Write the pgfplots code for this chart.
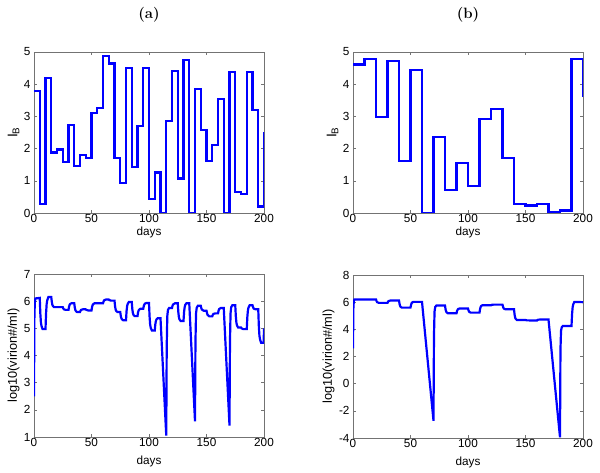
\documentclass[border=0pt]{standalone}
\usepackage{fontspec}
\usepackage{pgfplots}
\pgfplotsset{compat=1.18}
\newfontfamily\arial{Liberation Sans}
\newcommand\af{\arial\fontsize{11.8}{13}\selectfont}
\definecolor{mblue}{RGB}{0,0,255}
\pgfplotsset{
  mystyle/.style={
    scale only axis, width=230bp, height=161bp, anchor=south west,
    xmin=0, xmax=200, xtick={0,50,100,150,200},
    tick align=inside, major tick length=3bp,
    axis line style={line width=0.6pt, black!55},
    every tick/.style={black!55, line width=0.5pt},
    tick label style={font=\af},
    xticklabel style={inner sep=1.5bp},
    label style={font=\af},
    /pgf/number format/assume math mode=true,
    xlabel={days},
    xlabel style={at={(axis description cs:0.5,0)}, anchor=center, yshift=-19bp},
    ylabel style={inner sep=1bp},
    title style={font=\fontsize{15}{17}\selectfont\bfseries, at={(axis description cs:0.5,1)}, anchor=center, yshift=31bp},
  },
  sline/.style={color=mblue, line width=2.2pt, line join=miter},
}
\begin{document}
\begin{tikzpicture}
\useasboundingbox (0,0) rectangle (600bp,473bp);
% (a) top
\begin{axis}[mystyle, at={(34bp,260bp)}, ymin=0, ymax=5, ytick={0,1,2,3,4,5},
  ylabel={I\textsubscript{B}}, ylabel style={font=\arial\fontsize{14}{16}\selectfont}, title={(a)}]
\addplot[sline, const plot] coordinates {
(0,3.80) (5,0.27) (10,4.20) (15,1.88) (20,1.97) (25,1.59) (30,2.73) (35,1.45)
(40,1.79) (45,1.71) (50,3.10) (55,3.26) (60,4.88) (65,4.64) (70,1.72) (75,0.94)
(80,4.51) (85,1.42) (90,2.71) (95,4.51) (100,0.44) (105,1.26) (110,0.0) (115,2.85)
(120,4.42) (125,1.07) (130,4.75) (135,0.0) (140,3.85) (145,2.58) (150,1.62) (155,2.11)
(160,3.53) (165,0.0) (170,4.37) (175,0.65) (180,0.60) (185,4.39) (190,3.20) (195,0.20)
(200,0.20) (200,2.50)};
\node[anchor=south west, font=\arial\fontsize{9}{10}\selectfont, inner sep=0.5bp] at (rel axis cs:0,1) {x 10\textsuperscript{6}};
\end{axis}
% (b) top
\begin{axis}[mystyle, at={(353bp,260bp)}, ymin=0, ymax=5, ytick={0,1,2,3,4,5},
  ylabel={I\textsubscript{B}}, ylabel style={font=\arial\fontsize{14}{16}\selectfont}, title={(b)}]
\addplot[sline, const plot] coordinates {
(0,4.61) (10,4.78) (20,2.98) (30,4.71) (40,1.62) (50,4.43) (60,0.0) (70,2.37)
(80,0.72) (90,1.55) (100,0.84) (110,2.92) (120,3.23) (130,1.72) (140,0.27) (150,0.23)
(160,0.28) (170,0.02) (180,0.08) (190,4.78) (200,4.78) (200,3.60)};
\node[anchor=south west, font=\arial\fontsize{9}{10}\selectfont, inner sep=0.5bp] at (rel axis cs:0,1) {x 10\textsuperscript{6}};
\end{axis}
% (a) bottom
\begin{axis}[mystyle, at={(34bp,36bp)}, height=163bp, ymin=1, ymax=7, ytick={1,2,3,4,5,6,7},
  ylabel={log10(virion\#/ml)}, ylabel style={font=\arial\fontsize{12.8}{14}\selectfont}, xlabel style={yshift=-5bp}]
\addplot[sline] coordinates {
(0,2.5) (0.3,5.3) (0.7,5.95) (1.2,6.1) (5,6.12)
(5.5,5.55) (6,5.22) (6.5,5.09) (7.5,4.97) (10,4.97)
(10.5,5.56) (11,5.89) (11.5,6.03) (12.5,6.15) (15,6.15)
(15.5,5.97) (16,5.86) (16.5,5.82) (17.5,5.78) (25,5.78)
(25.5,5.73) (26,5.70) (27.5,5.68) (30,5.68)
(30.5,5.80) (31,5.87) (31.5,5.90) (32.5,5.92) (35,5.92)
(35.5,5.76) (36,5.67) (36.5,5.63) (37.5,5.6) (40,5.6)
(40.5,5.65) (41,5.68) (42.5,5.7) (45,5.7)
(45.5,5.68) (47,5.66) (50,5.66)
(50.5,5.79) (51,5.86) (51.5,5.89) (52.5,5.92) (60,5.92)
(60.5,5.99) (61,6.03) (62.5,6.06) (65,6.06)
(65.5,6.04) (67,6.02) (70,6.02)
(70.5,5.81) (71,5.69) (71.5,5.64) (72.5,5.6) (75,5.6)
(75.5,5.45) (76,5.37) (76.5,5.33) (77.5,5.3) (80,5.3)
(80.5,5.64) (81,5.82) (81.5,5.90) (82.5,5.97) (85,5.97)
(85.5,5.71) (86,5.56) (86.5,5.50) (87.5,5.45) (90,5.45)
(90.5,5.59) (91,5.66) (91.5,5.69) (92.5,5.72) (95,5.72)
(95.5,5.83) (96,5.88) (96.5,5.91) (97.5,5.93) (100,5.93)
(100.5,5.43) (101,5.14) (101.5,5.02) (102.5,4.92) (105,4.92)
(105.5,5.15) (106,5.27) (106.5,5.33) (107.5,5.37) (110,5.37)
(115,1.05) (115.4,4.3) (115.9,5.45) (116.5,5.68) (117.5,5.75) (120,5.75)
(120.5,5.84) (121,5.88) (122.5,5.92) (125,5.92)
(125.5,5.60) (126,5.41) (126.5,5.33) (127.5,5.27) (130,5.27)
(130.5,5.60) (131,5.78) (131.5,5.86) (132.5,5.92) (135,5.92)
(140,1.58) (140.4,4.5) (140.9,5.55) (141.5,5.76) (142.5,5.83) (145,5.83)
(145.5,5.74) (146,5.69) (147.5,5.65) (150,5.65)
(150.5,5.55) (151,5.49) (152.5,5.44) (155,5.44)
(155.5,5.50) (156,5.53) (157.5,5.55) (160,5.55)
(160.5,5.65) (161,5.71) (162.5,5.75) (165,5.75)
(170,1.42) (170.4,4.5) (170.9,5.55) (171.5,5.78) (172.5,5.85) (175,5.85)
(175.5,5.44) (176,5.21) (176.5,5.11) (177.5,5.03) (180,5.03)
(180.5,5.0) (182,4.97) (185,4.97)
(185.5,5.41) (186,5.66) (186.5,5.76) (187.5,5.85) (190,5.85)
(190.5,5.78) (191,5.73) (192.5,5.7) (195,5.7)
(195.5,5.09) (196,4.74) (196.5,4.6) (197.5,4.47) (199.7,4.47) (200,5.0)};
\end{axis}
% (b) bottom
\begin{axis}[mystyle, at={(353bp,35bp)}, height=163bp, ymin=-4, ymax=8, ytick={-4,-2,0,2,4,6,8},
  ylabel={log10(virion\#/ml)}, ylabel style={font=\arial\fontsize{12.8}{14}\selectfont}, xlabel style={yshift=-5bp}]
\addplot[sline] coordinates {
(0,2.6) (0.3,5.5) (0.7,6.1) (1.2,6.2) (20,6.2)
(20.5,6.07) (21,6.0) (22.5,5.95) (30,5.95)
(30.5,6.04) (31,6.08) (32.5,6.12) (40,6.12)
(40.5,5.86) (41,5.71) (41.5,5.65) (42.5,5.6) (50,5.6)
(50.5,5.81) (51,5.93) (51.5,5.98) (52.5,6.02) (60,6.02)
(70,-2.73) (70.4,3.5) (70.9,5.3) (71.5,5.65) (72.5,5.75) (80,5.75)
(80.5,5.47) (81,5.31) (81.5,5.24) (82.5,5.18) (90,5.18)
(90.5,5.36) (91,5.45) (91.5,5.50) (92.5,5.53) (100,5.53)
(100.5,5.38) (101,5.30) (101.5,5.26) (102.5,5.23) (110,5.23)
(110.5,5.50) (111,5.65) (111.5,5.72) (112.5,5.77) (120,5.77)
(121,5.81) (122.5,5.82) (130,5.82)
(130.5,5.65) (131,5.55) (131.5,5.51) (132.5,5.48) (140,5.48)
(140.5,5.09) (141,4.86) (141.5,4.77) (142.5,4.69) (150,4.69)
(151,4.66) (160,4.65)
(160.5,4.69) (161,4.71) (162.5,4.72) (170,4.72)
(180,-3.95) (180.4,2.5) (180.9,3.9) (181.5,4.15) (182.5,4.25) (190,4.25)
(190.5,5.13) (191,5.63) (191.5,5.84) (192.5,6.02) (200,6.0)};
\end{axis}
\end{tikzpicture}
\end{document}
